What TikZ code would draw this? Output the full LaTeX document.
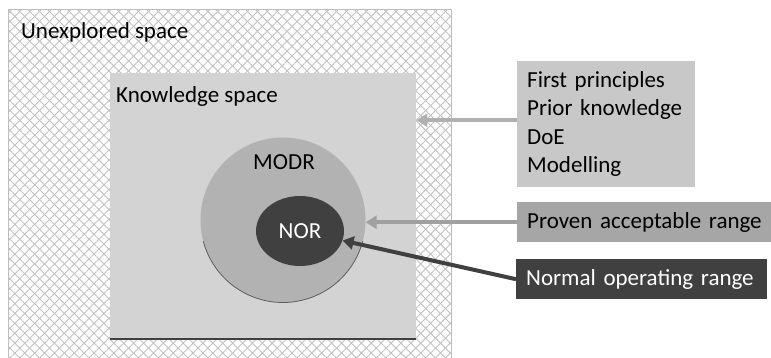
\documentclass[tikz,border=0pt]{standalone}
\usepackage{fontspec}
\setmainfont{Carlito}
\usetikzlibrary{patterns.meta,arrows.meta,shapes.geometric}
\definecolor{ksgray}{HTML}{D3D3D3}
\definecolor{modrgray}{HTML}{B2B2B2}
\definecolor{boxone}{HTML}{C8C8C8}
\definecolor{boxtwo}{HTML}{A6A6A6}
\definecolor{darkfill}{HTML}{404040}
\definecolor{hatch}{HTML}{C2C2C2}
\definecolor{framegray}{HTML}{BDBDBD}
\definecolor{arrowone}{HTML}{B0B0B0}
\definecolor{arrowtwo}{HTML}{A0A0A0}
\begin{document}
\begin{tikzpicture}[x=1pt,y=-1pt,
  every node/.style={font=\fontsize{23}{28.5}\selectfont},
  txtlabel/.style={anchor=base west,inner sep=0pt},
  infobox/.style={anchor=north west,inner xsep=10pt,inner ysep=0pt,align=left},
  conn/.style={line width=4pt,-{Triangle[length=11pt,width=13pt]}},
]
\useasboundingbox (0,0) rectangle (771,358);
\fill[white] (0,0) rectangle (771,358);
% unexplored space
\path[pattern={Lines[angle=45,distance=7pt,line width=0.9pt]},pattern color=hatch] (8,10) rectangle (451,358);
\path[pattern={Lines[angle=-45,distance=7pt,line width=0.9pt]},pattern color=hatch] (8,10) rectangle (451,358);
\draw[framegray,line width=1pt] (8,358) -- (8,10) -- (451,10) -- (451,358);
\node[txtlabel] (unexp) at (21,39) {Unexplored space};
% knowledge space
\node[anchor=north west,fill=ksgray,minimum width=306pt,minimum height=266pt,inner sep=0pt] (ks) at (110,73) {};
\draw[darkfill,line width=2pt] (ks.south west) -- (ks.south east);
\node[txtlabel] (kslabel) at (116,103) {Knowledge space};
% MODR
\node[circle,fill=modrgray,minimum size=165pt,inner sep=0pt] (modr) at (283,220) {};
\draw[darkfill!85,line width=0.8pt] (modr.center) ++(165:82.5) arc[start angle=165,end angle=15,radius=82.5];
\node[anchor=base] (modrlabel) at (284,170) {MODR};
% NOR
\node[ellipse,fill=darkfill,text=white,minimum width=88pt,minimum height=70pt,inner sep=0pt] (nor) at (300,231) {NOR};
% boxes
\node[infobox,fill=boxone,text width=158pt,minimum height=126pt] (b1) at (517,61) {First principles\\Prior knowledge\\DoE\\Modelling};
\node[infobox,fill=boxtwo,text width=250pt,minimum height=40pt] (b2) at (517,202) {\mbox{Proven acceptable range}};
\node[infobox,fill=darkfill,text=white,text width=231pt,minimum height=40pt] (b3) at (516,259) {\mbox{Normal operating range}};
% connectors
\draw[conn,arrowone] ([yshift=4pt]b1.west) -- ([yshift=4pt]b1.west -| ks.east);
\draw[conn,arrowtwo] (b2.west) -- (b2.west -| modr.east);
\draw[conn,darkfill] (b3.west) -- (nor);
\end{tikzpicture}
\end{document}
